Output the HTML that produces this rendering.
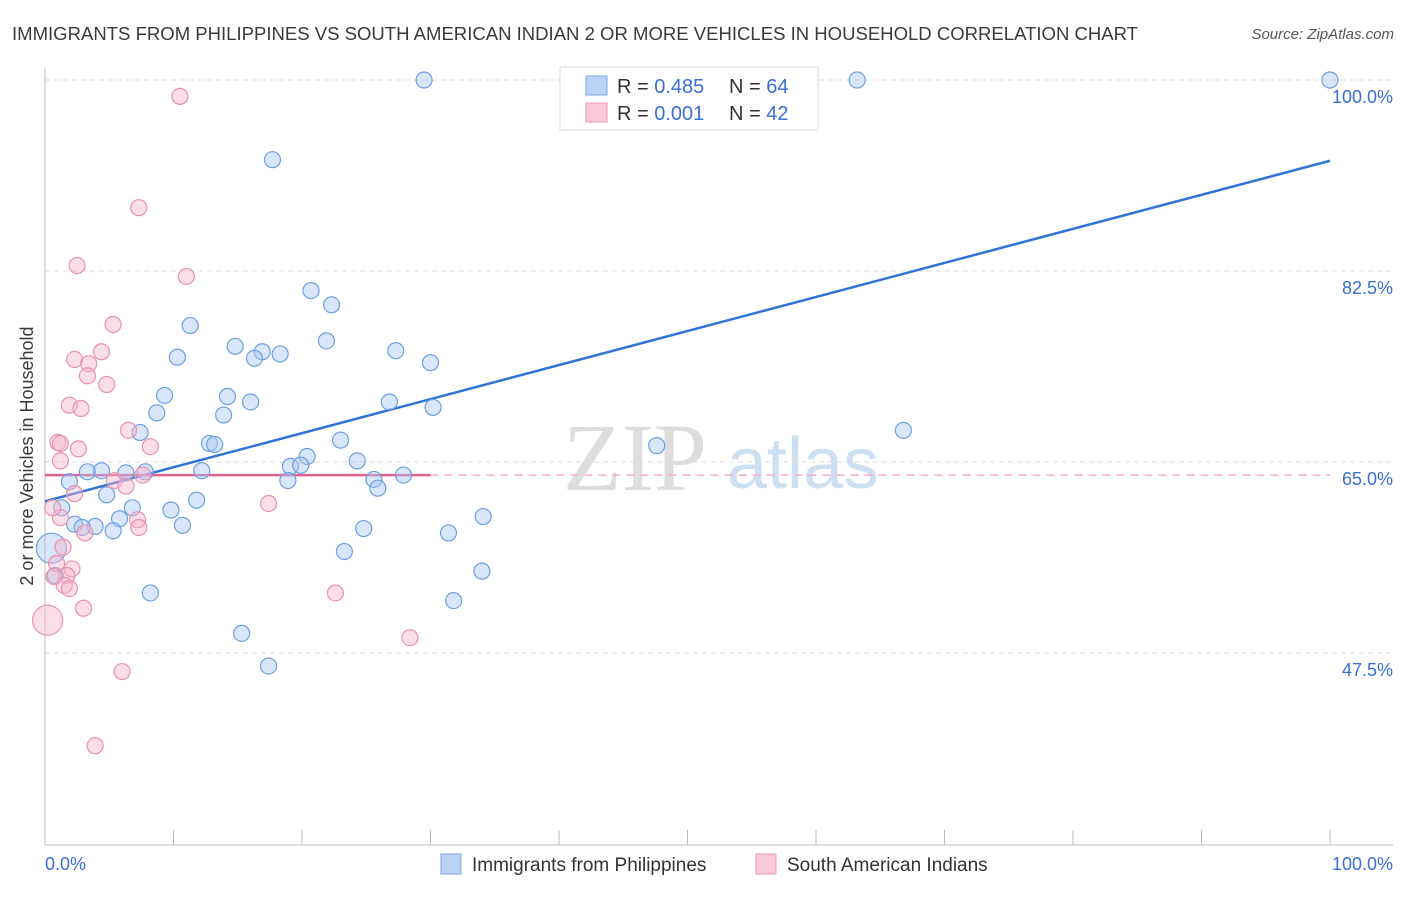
<!DOCTYPE html>
<html><head><meta charset="utf-8"><style>
body{margin:0;background:#fff;font-family:"Liberation Sans",sans-serif;}
</style></head><body>
<svg id="c" width="1406" height="892" xmlns="http://www.w3.org/2000/svg">
<text x="12" y="40" font-size="18" fill="#3a3a3a" textLength="1126" lengthAdjust="spacingAndGlyphs">IMMIGRANTS FROM PHILIPPINES VS SOUTH AMERICAN INDIAN 2 OR MORE VEHICLES IN HOUSEHOLD CORRELATION CHART</text>
<text x="1394" y="39" font-size="15" fill="#555" font-style="italic" text-anchor="end">Source: ZipAtlas.com</text>
<text x="0" y="0" transform="translate(33,456) rotate(-90)" font-size="18" fill="#3a3a3a" text-anchor="middle">2 or more Vehicles in Household</text>
<g><text x="635" y="490" font-size="96" font-family="Liberation Serif,serif" fill="#ddd" text-anchor="middle">ZIP</text><text x="803" y="488" font-size="72" fill="#cfdff2" text-anchor="middle">atlas</text></g>
<g id="grid"></g><g id="axes"></g><g id="lines"></g><g id="pts"></g>
<g>
<rect x="560" y="67" width="258" height="63" fill="#fff" stroke="#ddd"/>
<rect x="586" y="76" width="21" height="19" fill="#b9d3f5" stroke="#7ba6e6"/>
<rect x="586" y="103" width="21" height="19" fill="#fbc9d8" stroke="#ec9ab5"/>
<text x="617" y="93" font-size="20" fill="#333">R = <tspan fill="#3a6fd8">0.485</tspan></text>
<text x="729" y="93" font-size="20" fill="#333">N = <tspan fill="#3a6fd8">64</tspan></text>
<text x="617" y="120" font-size="20" fill="#333">R = <tspan fill="#3a6fd8">0.001</tspan></text>
<text x="729" y="120" font-size="20" fill="#333">N = <tspan fill="#3a6fd8">42</tspan></text>
</g>
<g>
<rect x="441" y="854" width="20" height="20" fill="#b9d3f5" stroke="#7ba6e6"/>
<text x="472" y="871" font-size="19" fill="#333">Immigrants from Philippines</text>
<rect x="756" y="854" width="20" height="20" fill="#fbc9d8" stroke="#ec9ab5"/>
<text x="787" y="871" font-size="19" fill="#333">South American Indians</text>
</g>
<text x="45" y="870" font-size="18" fill="#3a6fd8">0.0%</text>
<text x="1393" y="870" font-size="18" fill="#3a6fd8" text-anchor="end">100.0%</text>
</svg>
<script>
const yTicks=[100,82.5,65,47.5];
const yTickLabels=["100.0%","82.5%","65.0%","47.5%"];
const blueX=[29.5,63.2,100,17.7,20.7,22.3,11.3,21.9,14.8,10.3,16.9,18.3,16.3,27.3,30.0,9.3,14.2,16.0,26.8,30.2,8.7,13.9,7.4,66.8,12.8,13.2,23.0,47.6,20.4,24.3,19.1,19.9,12.2,3.3,4.4,6.3,7.8,25.6,27.9,1.9,18.9,25.9,4.8,11.8,1.3,6.8,9.8,5.8,2.3,3.9,2.9,10.7,5.3,34.1,24.8,31.4,23.3,0.5,34.0,0.8,8.2,31.8,15.3,17.4];
const blueY=[100,100,100,92.7,80.7,79.4,77.5,76.1,75.6,74.6,75.1,74.9,74.5,75.2,74.1,71.1,71.0,70.5,70.5,70.0,69.5,69.3,67.7,67.9,66.7,66.6,67.0,66.5,65.5,65.1,64.6,64.7,64.2,64.1,64.2,64.0,64.1,63.4,63.8,63.2,63.3,62.6,62.0,61.5,60.8,60.8,60.6,59.8,59.3,59.1,59.0,59.2,58.7,60.0,58.9,58.5,56.8,57.1,55.0,54.6,53.0,52.3,49.3,46.3];
const pinkX=[10.5,7.3,2.5,11.0,5.3,4.4,2.3,3.4,3.3,4.8,1.9,2.8,6.5,1.0,1.2,2.6,8.2,1.2,5.4,6.3,2.3,7.6,17.4,1.2,7.2,7.3,3.1,0.6,1.4,0.9,2.1,1.7,0.7,1.5,1.9,3.0,22.6,0.2,28.4,6.0,3.9];
const pinkY=[98.5,88.3,83.0,82.0,77.6,75.1,74.4,74.0,72.9,72.1,70.2,69.9,67.9,66.8,66.7,66.2,66.4,65.1,63.3,62.8,62.1,63.8,61.2,59.9,59.7,59.0,58.5,60.8,57.2,55.7,55.2,54.6,54.5,53.7,53.4,51.6,53.0,50.5,48.9,45.8,39.0];
const bigBlue=[57]; const bigPink=[37];
const blueTrend=[61.4,92.6]; const pinkTrend=[63.8,63.8];
const NS="http://www.w3.org/2000/svg";
const X=v=>45+v*12.85, Y=v=>80+(100-v)*10.914;
function mk(t,a,p){const e=document.createElementNS(NS,t);for(const k in a)e.setAttribute(k,a[k]);document.getElementById(p).appendChild(e);return e;}
yTicks.forEach((t,i)=>{
 const l=mk('line',{x1:45,x2:1393,y1:Y(t),y2:Y(t),stroke:'#ddd','stroke-dasharray':'5,4'},'grid');
 
 
 const tx=mk('text',{x:1393,y:Y(t)+23,'font-size':18,fill:'#3a6fd8','text-anchor':'end'},'grid');
 tx.textContent=yTickLabels[i];
 
 
});
const ax=mk('line',{x1:45,x2:45,y1:68,y2:845,stroke:'#bbb'},'axes');


const bx=mk('line',{x1:45,x2:1393,y1:845,y2:845,stroke:'#bbb'},'axes');


for(let i=0;i<=10;i++){const t=mk('line',{x1:X(i*10),x2:X(i*10),y1:830,y2:845,stroke:'#bbb'},'axes');
 
 }
const pd=mk('line',{x1:X(30),x2:X(100),y1:Y(pinkTrend[0]+(pinkTrend[1]-pinkTrend[0])*0.3),y2:Y(pinkTrend[1]),stroke:'#eeb0c4','stroke-width':1.5,'stroke-dasharray':'8,6'},'lines');


function dots(xs,ys,big,fill,stroke,name){xs.forEach((v,i)=>{
 const c=mk('circle',{cx:X(v),cy:Y(ys[i]),r:big.includes(i)?15:8,fill:fill,'fill-opacity':0.45,stroke:stroke,'stroke-width':1.2},'pts');
 
 });}
dots(blueX,blueY,bigBlue,'#a9c8f2','#6d9fe2','point-philippines');
dots(pinkX,pinkY,bigPink,'#f7b6cb','#e991b0','point-south-american-indian');
const bl=mk('line',{x1:X(0),x2:X(100),y1:Y(blueTrend[0]),y2:Y(blueTrend[1]),stroke:'#2f74d6','stroke-width':2.5},'lines');


const pl=mk('line',{x1:X(0),x2:X(30),y1:Y(pinkTrend[0]),y2:Y(pinkTrend[0]+(pinkTrend[1]-pinkTrend[0])*0.3),stroke:'#e2608c','stroke-width':2.5},'lines');


</script>
</body></html>
